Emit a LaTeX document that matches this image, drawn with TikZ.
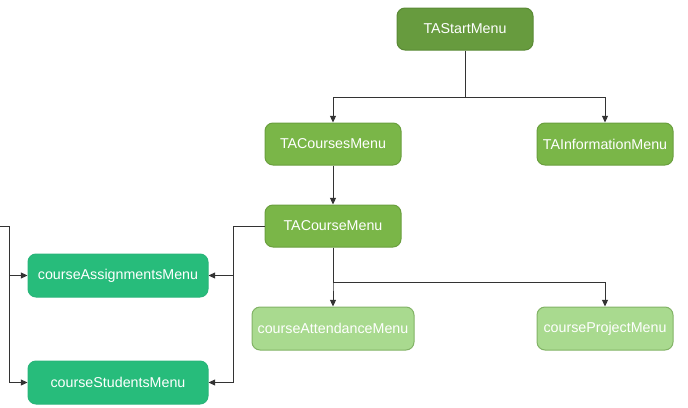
\documentclass[tikz,border=0pt]{standalone}
\usepackage{fontspec}
\setmainfont{Liberation Sans}
\usetikzlibrary{arrows.meta}
\definecolor{startfill}{HTML}{679B3E}
\definecolor{startdraw}{HTML}{5A8A35}
\definecolor{tafill}{HTML}{7AB648}
\definecolor{tadraw}{HTML}{6A9F3E}
\definecolor{subfill}{HTML}{27BC7B}
\definecolor{subdraw}{HTML}{2AB57A}
\definecolor{leaffill}{HTML}{A9DA8F}
\definecolor{leafdraw}{HTML}{82B366}
\definecolor{linkgray}{HTML}{333333}
\tikzset{
    menu/.style={rectangle, rounded corners=6pt, line width=0.75pt, text=white,
        font=\fontsize{10.7}{12}\selectfont, minimum height=31.5pt, inner sep=0pt},
    startmenu/.style={menu, fill=startfill, draw=startdraw, minimum width=102pt},
    tamenu/.style={menu, fill=tafill, draw=tadraw, minimum width=102pt},
    submenu/.style={menu, fill=subfill, draw=subdraw, minimum width=135pt, minimum height=32.25pt},
    leafmenu/.style={menu, fill=leaffill, draw=leafdraw, minimum height=32.25pt},
    link/.style={draw=linkgray, line width=0.75pt, -{Triangle[length=5pt,width=4.5pt]}}
}
\begin{document}
\begin{tikzpicture}[x=0.75pt, y=-0.75pt]
    \useasboundingbox (0,0) rectangle (688,407);
    % menus
    \node[startmenu] (start) at (465,29) {TAStartMenu};
    \node[tamenu] (courses) at (333,144) {TACoursesMenu};
    \node[tamenu] (info) at (605,144) {TAInformationMenu};
    \node[tamenu] (course) at (333,226) {TACourseMenu};
    \node[submenu] (assign) at (118,275.5) {courseAssignmentsMenu};
    \node[submenu] (students) at (118,382.5) {courseStudentsMenu};
    \node[leafmenu, minimum width=121.5pt] (attend) at (333,328.5) {courseAttendanceMenu};
    \node[leafmenu, minimum width=102pt] (project) at (605,328.5) {courseProjectMenu};
    \coordinate (offleft) at (0,226);
    % links
    \draw[link] (start.south) -- ++(0,47) -| (courses.north);
    \draw[link] (start.south) -- ++(0,47) -| (info.north);
    \draw[link] (courses.south) -- (course.north);
    \draw[link] (course.south) -- ++(0,35) -| (attend.north);
    \draw[link] (course.south) -- ++(0,35) -| (project.north);
    \draw[link] (course.west) -- ++(-31,0) |- (assign.east);
    \draw[link] (course.west) -- ++(-31,0) |- (students.east);
    \draw[link] (offleft) -- ++(9,0) |- (assign.west);
    \draw[link] (offleft) -- ++(9,0) |- (students.west);
\end{tikzpicture}
\end{document}
